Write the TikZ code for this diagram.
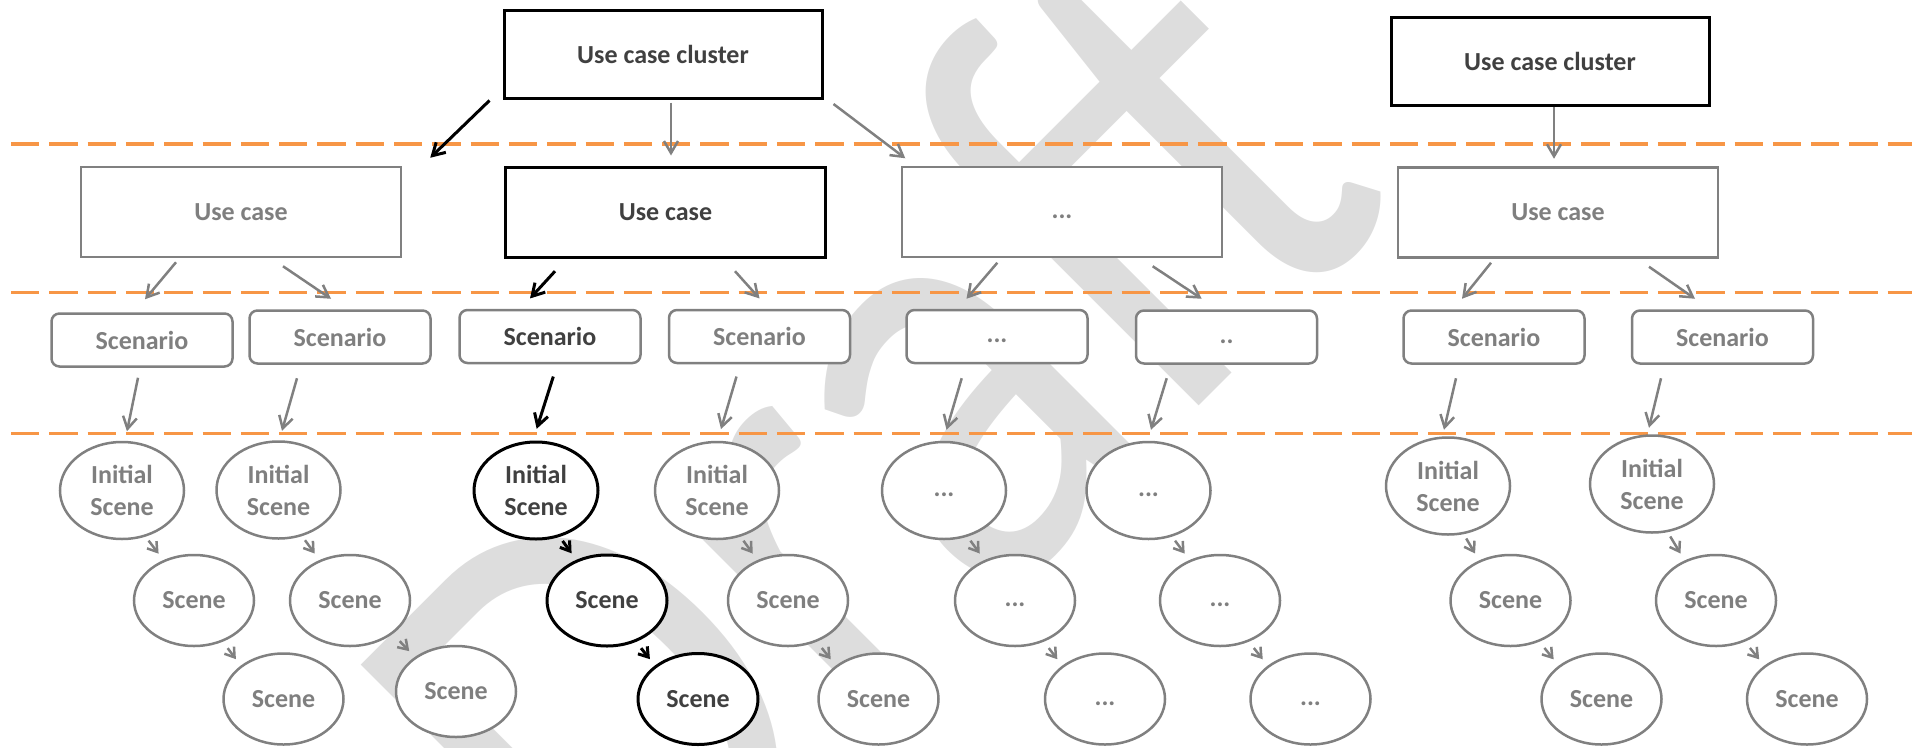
\documentclass[tikz,border=0pt]{standalone}
\usepackage{fontspec}
\setmainfont{Carlito}
\usetikzlibrary{shapes.geometric,arrows.meta}

\definecolor{linegray}{RGB}{128,128,128}
\definecolor{txtgray}{RGB}{127,127,127}
\definecolor{txtdark}{RGB}{64,64,64}
\definecolor{sepor}{RGB}{247,150,70}
\definecolor{wmgray}{RGB}{221,221,221}

\tikzset{
  txt/.style={font=\fontsize{26}{32}\selectfont\bfseries},
  clbox/.style={txt, rectangle, draw=black, line width=3pt, fill=white, text=txtdark, minimum width=318pt, minimum height=88pt},
  ucbox/.style={txt, rectangle, draw=linegray, line width=2.5pt, fill=white, text=txtgray, minimum width=320pt, minimum height=90pt},
  scbox/.style={txt, rectangle, rounded corners=8pt, draw=linegray, line width=2.5pt, fill=white, text=txtgray, minimum width=181pt, minimum height=53pt},
  inisc/.style={txt, ellipse, draw=linegray, line width=2.5pt, fill=white, text=txtgray, align=center, inner sep=0pt, minimum width=124pt, minimum height=97pt},
  scn/.style={txt, ellipse, draw=linegray, line width=2.5pt, fill=white, text=txtgray, inner sep=0pt, minimum width=120pt, minimum height=91pt},
  hl/.style={draw=black, line width=3pt, text=txtdark},
  arr/.style={draw=linegray, line width=2.5pt, -{Straight Barb[length=12pt,width=14pt]}},
  arrhl/.style={arr, draw=black, line width=3pt},
  sarr/.style={draw=linegray, line width=2.5pt, -{Straight Barb[length=9pt,width=12pt]}, shorten <=5pt, shorten >=8pt},
  sarrhl/.style={sarr, draw=black, line width=3pt},
  sepline/.style={draw=sepor, line width=3.5pt, dash pattern=on 28.3pt off 10pt},
  wmark/.style={text=wmgray, font=\fontsize{570}{570}\selectfont, inner sep=0pt}
}

\begin{document}
\begin{tikzpicture}[x=1pt,y=-1pt]
    \clip (0,0) rectangle (1919,747);

    % Watermark
    \node[wmark, rotate=45, xscale=0.951, yscale=1.119, anchor=base west] (wm) at (624,981) {Draft};

    % Level separators
    \draw[sepline] (11,144) -- (1912,144);
    \draw[sepline] (11,292.5) -- (1912,292.5);
    \draw[sepline] (11,433.5) -- (1912,433.5);

    % Use case clusters
    \node[clbox] (cl1) at (663,54) {Use case cluster};
    \node[clbox] (cl2) at (1550,61.5) {Use case cluster};

    % Use cases
    \node[ucbox] (uc1) at (241,212) {Use case};
    \node[ucbox, hl] (uc2) at (665.5,212) {Use case};
    \node[ucbox] (uc3) at (1062,212) {\strut...};
    \node[ucbox] (uc4) at (1558,212.5) {Use case};

    % Scenarios
    \node[scbox] (scen1) at (142,340) {Scenario};
    \node[scbox] (scen2) at (340,337) {Scenario};
    \node[scbox, text=txtdark] (scen3) at (550,336.5) {Scenario};
    \node[scbox] (scen4) at (759.5,336.5) {Scenario};
    \node[scbox] (scen5) at (997,336.5) {\strut...};
    \node[scbox] (scen6) at (1226.5,337) {\strut..};
    \node[scbox] (scen7) at (1494,337) {Scenario};
    \node[scbox] (scen8) at (1722.5,337) {Scenario};

    % Initial scenes
    \node[inisc] (init1) at (122,490.5) {Initial\\Scene};
    \node[inisc] (init2) at (278.5,490) {Initial\\Scene};
    \node[inisc, hl] (init3) at (536,490.5) {Initial\\Scene};
    \node[inisc] (init4) at (717,490.5) {Initial\\Scene};
    \node[inisc] (init5) at (944,490.5) {\strut...};
    \node[inisc] (init6) at (1148.5,490.5) {\strut...};
    \node[inisc] (init7) at (1448,486) {Initial\\Scene};
    \node[inisc] (init8) at (1652,484) {Initial\\Scene};

    % Following scenes
    \node[scn] (snb1) at (194,600.5) {Scene};
    \node[scn] (snb2) at (350,600.5) {Scene};
    \node[scn, hl] (snb3) at (607,600.5) {Scene};
    \node[scn] (snb4) at (788,600.5) {Scene};
    \node[scn] (snb5) at (1015,600.5) {\strut...};
    \node[scn] (snb6) at (1220,600.5) {\strut...};
    \node[scn] (snb7) at (1510.5,600.5) {Scene};
    \node[scn] (snb8) at (1716,600.5) {Scene};

    \node[scn] (snc1) at (283.5,699) {Scene};
    \node[scn] (snc2) at (456,691.5) {Scene};
    \node[scn, hl] (snc3) at (698,699) {Scene};
    \node[scn] (snc4) at (878.5,699) {Scene};
    \node[scn] (snc5) at (1105,699) {\strut...};
    \node[scn] (snc6) at (1310.5,699) {\strut...};
    \node[scn] (snc7) at (1601.5,699) {Scene};
    \node[scn] (snc8) at (1807,699) {Scene};

    % Cluster -> use case arrows
    \draw[arrhl] ([xshift=-13pt,yshift=-1pt]cl1.south west) -- ([xshift=28pt,yshift=8pt]uc1.north east);
    \draw[arr] ([xshift=8pt,yshift=-3pt]cl1.south) -- ([xshift=5.5pt,yshift=10pt]uc2.north);
    \draw[arr] ([xshift=10pt,yshift=-4.5pt]cl1.south east) -- ([xshift=4.5pt,yshift=7.5pt]uc3.north west);
    \draw[arr] ([xshift=4pt]cl2.south) -- ([xshift=-4pt,yshift=7.5pt]uc4.north);

    % Use case -> scenario arrows
    \draw[arr] ([xshift=-65pt,yshift=-4pt]uc1.south) -- ([xshift=3pt,yshift=13pt]scen1.north);
    \draw[arr] ([xshift=42pt,yshift=-8pt]uc1.south) -- ([xshift=-9pt,yshift=10.5pt]scen2.north);
    \draw[arrhl] ([xshift=-110.5pt,yshift=-12.7pt]uc2.south) -- ([xshift=-20pt,yshift=10.3pt]scen3.north);
    \draw[arr] ([xshift=69.5pt,yshift=-12.7pt]uc2.south) -- ([yshift=10.3pt]scen4.north);
    \draw[arr] ([xshift=-64.7pt,yshift=-4.5pt]uc3.south) -- ([xshift=-30.5pt,yshift=10pt]scen5.north);
    \draw[arr] ([xshift=90.7pt,yshift=-8pt]uc3.south) -- ([xshift=-24.8pt,yshift=10.5pt]scen6.north);
    \draw[arr] ([xshift=-67pt,yshift=-4pt]uc4.south) -- ([xshift=-32pt,yshift=10.5pt]scen7.north);
    \draw[arr] ([xshift=91pt,yshift=-8pt]uc4.south) -- ([xshift=-27.5pt,yshift=10.5pt]scen8.north);

    % Scenario -> initial scene arrows
    \draw[arr] ([xshift=-4pt,yshift=-10pt]scen1.south) -- ([xshift=5pt,yshift=9.5pt]init1.north);
    \draw[arr] ([xshift=-43pt,yshift=-13.5pt]scen2.south) -- ([xshift=3.5pt,yshift=9.5pt]init2.north);
    \draw[arrhl] ([xshift=3.3pt,yshift=-12.3pt]scen3.south) -- ([xshift=0.7pt,yshift=11.7pt]init3.north);
    \draw[arr] ([xshift=-23pt,yshift=-12.3pt]scen4.south) -- ([xshift=4pt,yshift=11.7pt]init4.north);
    \draw[arr] ([xshift=-35.3pt,yshift=-14pt]scen5.south) -- ([xshift=2.5pt,yshift=11pt]init5.north);
    \draw[arr] ([xshift=-59.8pt,yshift=-13.5pt]scen6.south) -- ([xshift=2.5pt,yshift=11pt]init6.north);
    \draw[arr] ([xshift=-38pt,yshift=-13.5pt]scen7.south) -- ([xshift=-4pt,yshift=6.5pt]init7.north);
    \draw[arr] ([xshift=-61.5pt,yshift=-13.5pt]scen8.south) -- ([xshift=-3pt,yshift=6.5pt]init8.north);

    % Scene chains
    \draw[sarr] (init1.-63) -- (snb1.127);
    \draw[sarr, shorten <=8pt] (snb1.-55) -- (snc1.142);
    \draw[sarr] (init2.-63) -- (snb2.127);
    \draw[sarr, shorten <=10pt] (snb2.-38) -- (snc2.140);
    \draw[sarrhl] (init3.-63) -- (snb3.127);
    \draw[sarrhl, shorten <=8pt] (snb3.-55) -- (snc3.142);
    \draw[sarr] (init4.-63) -- (snb4.127);
    \draw[sarr, shorten <=8pt] (snb4.-55) -- (snc4.142);
    \draw[sarr] (init5.-63) -- (snb5.127);
    \draw[sarr, shorten <=8pt] (snb5.-55) -- (snc5.142);
    \draw[sarr] (init6.-63) -- (snb6.127);
    \draw[sarr, shorten <=8pt] (snb6.-55) -- (snc6.142);
    \draw[sarr] (init7.-72) -- (snb7.128);
    \draw[sarr, shorten <=8pt] (snb7.-55) -- (snc7.142);
    \draw[sarr] (init8.-72) -- (snb8.128);
    \draw[sarr, shorten <=8pt] (snb8.-55) -- (snc8.142);
\end{tikzpicture}
\end{document}
